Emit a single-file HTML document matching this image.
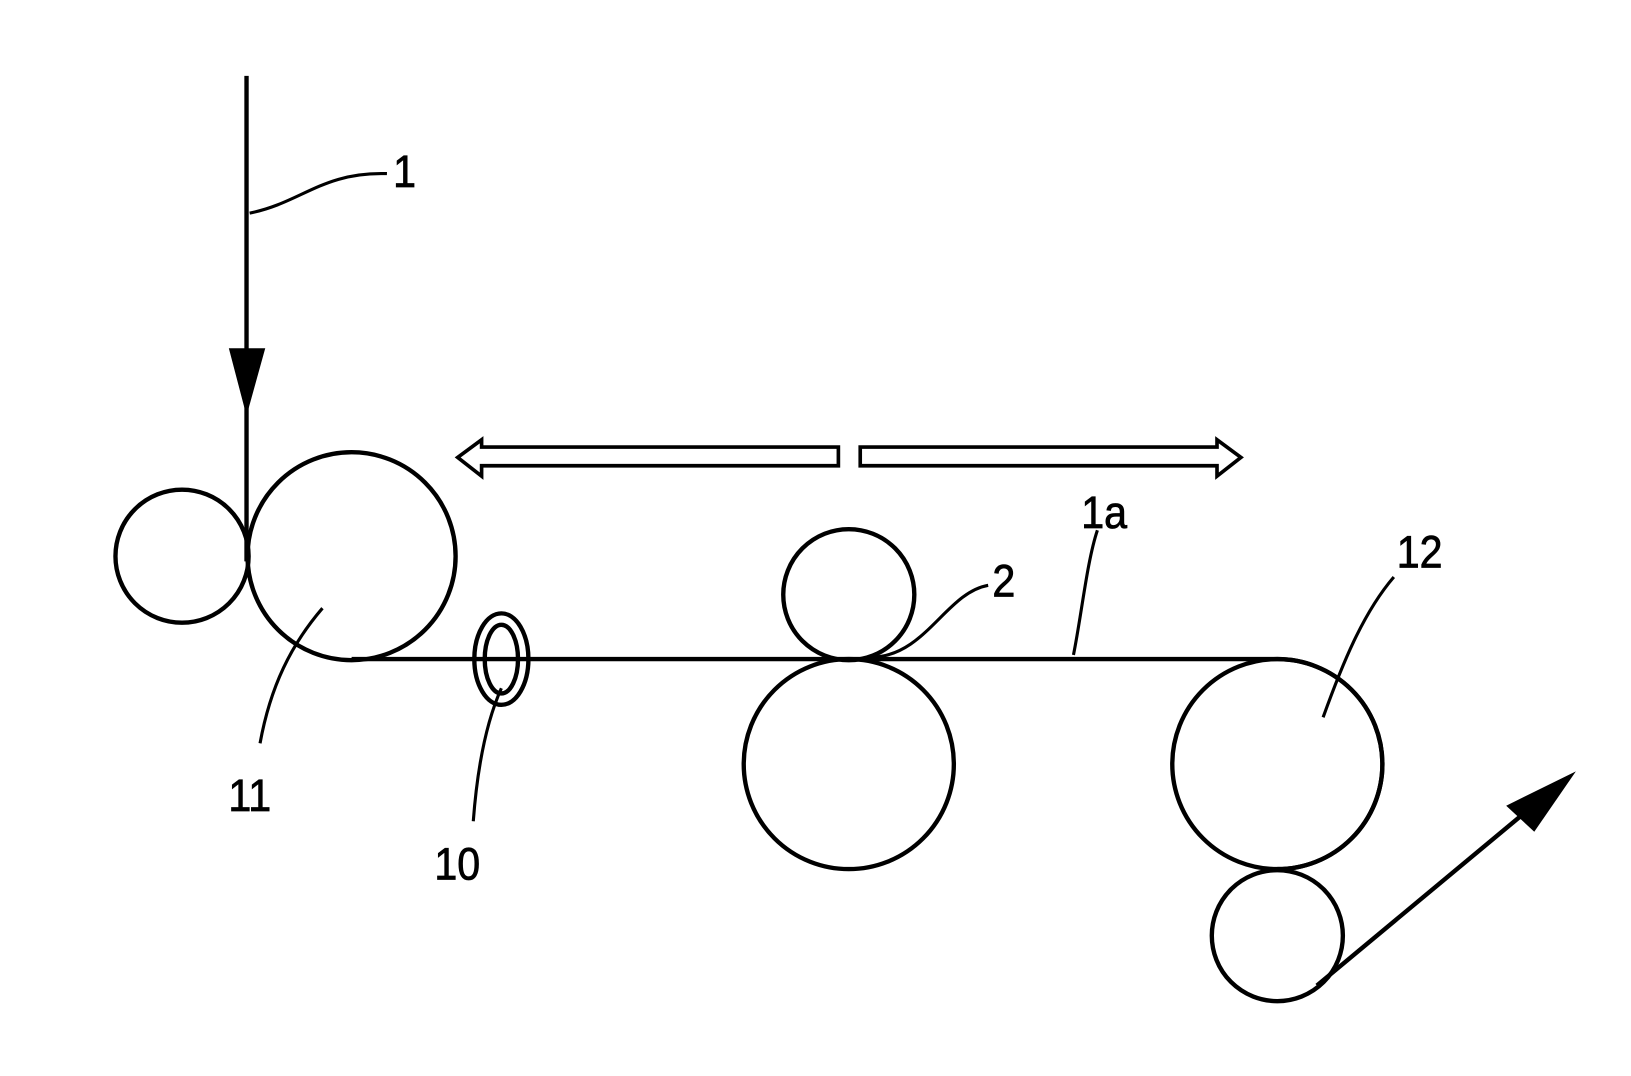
<!DOCTYPE html>
<html><head><style>html,body{margin:0;padding:0;background:#fff;}svg{display:block}</style></head>
<body>
<svg width="1631" height="1076" viewBox="0 0 1568 1035" preserveAspectRatio="none" xmlns="http://www.w3.org/2000/svg">
<g fill="none" stroke="#000" stroke-width="4.2">
<line x1="237" y1="73" x2="237" y2="540"/>
<circle cx="175" cy="535" r="64"/>
<circle cx="338" cy="535" r="100"/>
<path d="M338 634 H1228 A101 101 0 0 1 1228 836"/>
<circle cx="816" cy="572" r="63"/>
<circle cx="816" cy="735" r="101"/>
<circle cx="1228" cy="735" r="101"/>
<circle cx="1228" cy="900" r="63"/>
<line x1="1266" y1="948" x2="1480" y2="770"/>
<ellipse cx="482" cy="634" rx="26" ry="44"/>
<ellipse cx="482" cy="634" rx="16" ry="33"/>
<path d="M806 430 H463 V423 L440 440 L463 458 V448 H806 Z" stroke-width="3.5"/>
<path d="M827 430 H1170 V423 L1193 440 L1170 458 V448 H827 Z" stroke-width="3.5"/>
<g stroke-width="3">
<path d="M240 205 C290 195 310 165 372 167"/>
<path d="M1032 630 C1040 590 1045 540 1055 510"/>
<path d="M840 632 C890 630 910 570 950 563"/>
<path d="M1272 690 C1290 640 1310 590 1340 555"/>
<path d="M310 585 C280 620 260 660 250 715"/>
<path d="M482 662 C465 700 458 750 455 790"/>
</g>
</g>
<polygon points="220,335 255,335 237,400" fill="#000"/>
<polygon points="1515,742 1448,775 1475,800" fill="#000"/>
<g font-family="Liberation Sans, Arial, sans-serif" font-size="44" fill="#000" stroke="#000" stroke-width="0.8" transform="scale(0.9,1)">
<text x="420" y="180">1</text>
<text x="1155" y="508">1a</text>
<text x="1060" y="574">2</text>
<text x="1492" y="546">12</text>
<text x="244" y="780">11</text>
<text x="464" y="846">10</text>
</g>
</svg>
</body></html>
